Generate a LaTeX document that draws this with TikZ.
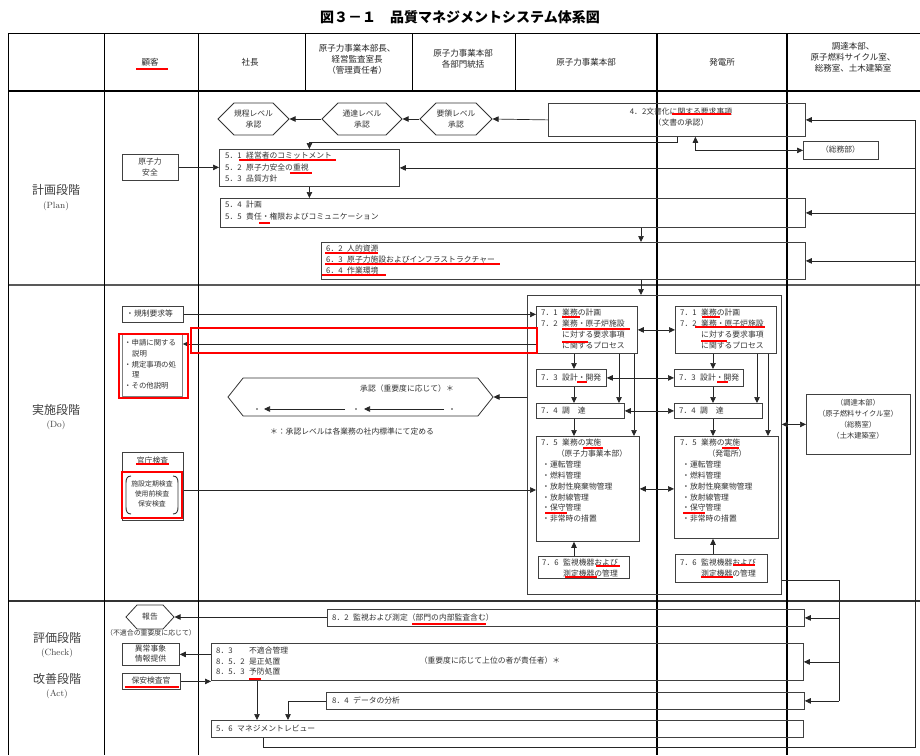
\documentclass[tikz,border=0pt]{standalone}
\usepackage{fontspec}
\newfontfamily\jp{Noto Sans CJK JP}
\usetikzlibrary{arrows.meta,shapes.symbols,calc}
\newcommand{\secn}[2][21pt]{\makebox[#1][l]{#2}}
\newcommand{\drawbox}[6][]{\node[boxst,#1,anchor=north west,minimum width={(#5-#3)*1pt},minimum height={(#6-#4)*1pt}] (#2) at (#3,#4) {};}
\tikzset{
  boxst/.style={draw=black!75, line width=0.8pt, inner sep=0pt, rectangle},
  txt/.style={font=\jp\fontsize{7.8}{#1}\selectfont, inner sep=0pt, align=left, text=black!80},
  txt/.default=11,
  ctxt/.style={txt=#1, align=center},
  ctxt/.default=11,
  hfont/.style={font=\jp\fontsize{8.5}{11}\selectfont, inner sep=0pt, align=center, text=black!85},
  arr/.style={-{Triangle[length=6pt,width=5.5pt]}, line width=0.7pt, draw=black!85},
  dbl/.style={{Triangle[length=6pt,width=5.5pt]}-{Triangle[length=6pt,width=5.5pt]}, line width=0.7pt, draw=black!85},
  plainln/.style={line width=0.7pt, draw=black!85},
  hexst/.style={draw=black!80, line width=0.8pt, signal, signal to=west and east, inner sep=0pt, font=\jp\fontsize{7.8}{11}\selectfont, align=center, text=black!80},
  redul/.style={draw=red, line width=2pt},
  redbox/.style={draw=red, line width=2.4pt},
  gridln/.style={line width=1pt, draw=black},
  lbl/.style={font=\jp\fontsize{12}{14}\selectfont, text=black!75, inner sep=0pt},
  lbls/.style={font=\fontsize{9}{11}\selectfont, text=black!75, inner sep=0pt},
  dotn/.style={circle, fill=black!80, inner sep=0pt, minimum size=1.6pt},
}
\begin{document}
\begin{tikzpicture}[x=1pt,y=-1pt]
\useasboundingbox (0,0) rectangle (920,755);
\fill[white] (0,0) rectangle (920,755);

% title
\node[font=\jp\bfseries\fontsize{14}{16}\selectfont, inner sep=0pt] (title) at (460,17) {図３－１　品質マネジメントシステム体系図};

% table grid
\draw[gridln] (8,33) -- (920,33);
\draw[line width=1.6pt] (8,91) -- (920,91);
\draw[line width=1.2pt, black!65] (8,285) -- (920,285);
\draw[line width=1.2pt, black!80] (8,601) -- (920,601);
\draw[gridln] (8,33) -- (8,755);
\draw[gridln] (104,33) -- (104,755);
\draw[gridln] (198,33) -- (198,755);
\draw[gridln] (305,33) -- (305,91);
\draw[gridln] (412,33) -- (412,91);
\draw[gridln] (515,33) -- (515,91);
\draw[line width=1.3pt] (657,33) -- (657,755);
\draw[line width=1.3pt] (787,33) -- (787,755);

% header
\node[hfont] (hk) at (150,62) {顧客};
\node[hfont] (hs) at (250,62) {社長};
\node[hfont] (hm) at (357,59) {原子力事業本部長、\\経営監査室長\\（管理責任者）};
\node[hfont] (hb) at (463,59) {原子力事業本部\\各部門統括};
\node[hfont] (hg) at (586,62) {原子力事業本部};
\node[hfont] (hp) at (722,62) {発電所};
\node[hfont] (hc) at (853,57) {調達本部、\\原子燃料サイクル室、\\総務室、土木建築室};

% left labels
\node[lbl] (lp1) at (56,190) {計画段階};
\node[lbls] (lp2) at (56,206) {(Plan)};
\node[lbl] (ld1) at (56,410) {実施段階};
\node[lbls] (ld2) at (56,425) {(Do)};
\node[lbl] (lc1) at (57,638) {評価段階};
\node[lbls] (lc2) at (57,653) {(Check)};
\node[lbl] (la1) at (57,679) {改善段階};
\node[lbls] (la2) at (57,694) {(Act)};

% ---------- Plan ----------
\node[hexst, minimum width=67pt, minimum height=32pt] (hex1) at (253.5,119) {規程レベル\\承認};
\node[hexst, minimum width=80pt, minimum height=32pt] (hex2) at (362,119) {通達レベル\\承認};
\node[hexst, minimum width=72pt, minimum height=32pt] (hex3) at (456,119) {要領レベル\\承認};
\drawbox{b42}{548}{103}{805}{136}
\node[ctxt=10.5] (t42) at (681,117) {4．2文書化に関する要求事項\\（文書の承認）};
\drawbox{soumu}{803}{141}{878}{159}
\node[ctxt] (tsoumu) at (840.5,150) {（総務部）};
\drawbox{genshi}{122}{154}{178}{180}
\node[ctxt=11] (tgenshi) at (150,167) {原子力\\安全};
\drawbox{b51}{219}{149}{399}{186}
\node[txt=11.5, anchor=north west] (t51) at (225,152) {\secn{5．1}経営者のコミットメント\\\secn{5．2}原子力安全の重視\\\secn{5．3}品質方針};
\drawbox{b54}{220}{198}{805}{227}
\node[txt=12, anchor=north west] (t54) at (225,201) {\secn{5．4}計画\\\secn{5．5}責任・権限およびコミュニケーション};
\drawbox{b62}{321}{242}{805}{279}
\node[txt=11, anchor=north west] (t62) at (326,245) {\secn{6．2}人的資源\\\secn{6．3}原子力施設およびインフラストラクチャー\\\secn{6．4}作業環境};

% ---------- Do ----------
\drawbox{kisei}{122}{306}{183}{322}
\node[txt, anchor=west] (tkisei) at (126,314) {・規制要求等};
\drawbox[draw=black!50]{shinsei}{122}{333}{182}{396}
\node[txt=10.8, anchor=north west, font=\jp\fontsize{7.4}{10.8}\selectfont] (tshinsei) at (124,339) {・申請に関する\\\hspace*{8pt}説明\\・規定事項の処\\\hspace*{8pt}理\\・その他説明};
\node[hexst, signal pointer angle=103, minimum width=265pt, minimum height=38pt] (bighex) at (360.5,397) {};
\node[txt] (thex) at (407,389) {承認（重要度に応じて）＊};
\node[dotn] (d1) at (257,409) {};
\node[dotn] (d2) at (356,409) {};
\node[dotn] (d3) at (452,409) {};
\node[txt] (note) at (352,432) {＊：承認レベルは各業務の社内標準にて定める};

\drawbox{kancho}{122}{452}{183}{520}
\draw[line width=0.8pt, black!75] (122,471) -- (183,471);
\node[ctxt] (tkancho) at (152.5,461) {官庁検査};
\node[ctxt=10, font=\jp\fontsize{6.9}{10}\selectfont] (tkancho2) at (152,494) {施設定期検査\\使用前検査\\保安検査};
\draw[line width=0.9pt, black!80] (131,476) .. controls (127,476) and (126,479) .. (126,483) -- (126,507) .. controls (126,511) and (127,514) .. (131,514);
\draw[line width=0.9pt, black!80] (173,476) .. controls (177,476) and (178,479) .. (178,483) -- (178,507) .. controls (178,511) and (177,514) .. (173,514);

\drawbox{frame}{527}{295}{781}{594}
\drawbox{b71L}{536}{306}{637}{353}
\drawbox{b71R}{675}{306}{776}{353}
\drawbox{b73L}{536}{369}{606}{386}
\drawbox{b73R}{674}{369}{743}{386}
\drawbox{b74L}{536}{403}{624}{418}
\drawbox{b74R}{674}{403}{762}{418}
\drawbox{b75L}{536}{436}{639}{541}
\drawbox{b75R}{674}{436}{778}{538}
\drawbox{b76L}{538}{556}{629}{578}
\drawbox{b76R}{675}{554}{767}{582}

\node[txt=11, anchor=north west] (t71L) at (541,309) {\secn{7．1}業務の計画\\\secn{7．2}業務・原子炉施設\\\hspace*{21pt}に対する要求事項\\\hspace*{21pt}に関するプロセス};
\node[txt=11, anchor=north west] (t71R) at (680,309) {\secn{7．1}業務の計画\\\secn{7．2}業務・原子炉施設\\\hspace*{21pt}に対する要求事項\\\hspace*{21pt}に関するプロセス};
\node[txt, anchor=west] (t73L) at (541,377.5) {\secn{7．3}設計・開発};
\node[txt, anchor=west] (t73R) at (679,377.5) {\secn{7．3}設計・開発};
\node[txt, anchor=west] (t74L) at (541,410.5) {\secn{7．4}調　達};
\node[txt, anchor=west] (t74R) at (679,410.5) {\secn{7．4}調　達};
\node[txt, anchor=west] (t75L) at (541,443) {\secn{7．5}業務の実施};
\node[txt, anchor=west] (t75R) at (680,443) {\secn{7．5}業務の実施};
\node[txt] (s75L) at (592,454) {（原子力事業本部）};
\node[txt] (s75R) at (727,454) {（発電所）};
\node[txt=10.8, anchor=north west] (i75L) at (542,461) {・運転管理\\・燃料管理\\・放射性廃棄物管理\\・放射線管理\\・保守管理\\・非常時の措置};
\node[txt=10.8, anchor=north west] (i75R) at (682,461) {・運転管理\\・燃料管理\\・放射性廃棄物管理\\・放射線管理\\・保守管理\\・非常時の措置};
\node[txt=10.5, anchor=north west] (t76L) at (542,559) {\secn{7．6}監視機器および\\\hspace*{21pt}測定機器の管理};
\node[txt=10.5, anchor=north west] (t76R) at (680,559) {\secn{7．6}監視機器および\\\hspace*{21pt}測定機器の管理};

\drawbox{chotatsu}{806}{394}{910}{454}
\node[ctxt=11, font=\jp\fontsize{7.3}{11}\selectfont] (tchot) at (858,419) {（調達本部）\\（原子燃料サイクル室）\\（総務室）\\（土木建築室）};

% ---------- Check / Act ----------
\node[hexst, signal pointer angle=95, minimum width=48pt, minimum height=24pt] (hokoku) at (150,617) {報告};
\node[txt, font=\jp\fontsize{6.9}{9}\selectfont] (tfut) at (151,633) {（不適合の重要度に応じて）};
\drawbox{ijou}{122}{643}{179}{665}
\node[ctxt=10] (tijou) at (150.5,654) {異常事象\\情報提供};
\drawbox{hoan}{122}{673}{180}{689}
\node[ctxt] (thoan) at (151,681) {保安検査官};
\drawbox{b82}{327}{609}{804}{626}
\node[txt, anchor=west] (t82) at (332,617.5) {\secn{8．2}監視および測定（部門の内部監査含む）};
\drawbox{b83}{211}{643}{803}{680}
\node[txt=10.5, anchor=north west] (t83) at (216,647) {\secn[33pt]{8．3}不適合管理\\\secn[33pt]{8．5．2}是正処置\\\secn[33pt]{8．5．3}予防処置};
\node[txt] (t83b) at (490,661) {（重要度に応じて上位の者が責任者）＊};
\drawbox{b84}{326}{692}{804}{709}
\node[txt, anchor=west] (t84) at (332,700.5) {\secn{8．4}データの分析};
\drawbox{b56}{211}{720}{803}{737}
\node[txt, anchor=west] (t56) at (216,728.5) {\secn{5．6}マネジメントレビュー};

% ---------- coordinates ----------
\coordinate (rb) at (915,747);
\coordinate (rx) at (839,580);
\coordinate (x641) at (641,0);
\coordinate (xL1) at (574,0);
\coordinate (xL2) at (619,0);
\coordinate (xL3) at (634,0);
\coordinate (xR1) at (713,0);
\coordinate (xR2) at (757,0);
\coordinate (xR3) at (768,0);
\coordinate (y344) at (0,344);
\coordinate (y490) at (0,490);
\coordinate (x257) at (257,0);
\coordinate (x288) at (288,0);

% ---------- connectors ----------
\draw[arr] (b42.west) -- (hex3.east);
\draw[arr] (hex3.west) -- (hex2.east);
\draw[arr] (hex2.west) -- (hex1.east);
\draw[arr] (b42.south) -- ++(0,6) -| (b51.north);
\draw[dbl] ([xshift=18.5pt]b42.south) |- (soumu.west);
\draw[arr] ([xshift=-244pt]b56.south) |- (rb) -- (b42.east -| rb) -- (b42.east);
\draw[arr] (b51.east -| rb) -- (b51.east);
\draw[arr] (b54.east -| rb) -- (b54.east);
\draw[arr] (b62.east -| rb) -- (b62.east);
\draw[arr] (genshi.east) -- (genshi.east -| b51.west);
\draw[arr] (b51.south) -- (b51.south |- b54.north);
\draw[arr] (b54.south -| x641) -- (b62.north -| x641);
\draw[arr] (b62.south -| x641) -- (frame.north -| x641);

\draw[arr] (kisei.east) -- (kisei.east -| b71L.west);
\draw[arr] (b71L.west |- y344) -- (shinsei.east |- y344);
\draw[arr] (frame.west |- bighex.east) -- (bighex.east);
\draw[arr, shorten <=7pt, shorten >=7pt] (d3) -- (d2);
\draw[arr, shorten <=10pt, shorten >=6pt] (d2) -- (d1);
\draw[arr] (kancho.east |- y490) -- (b75L.west |- y490);

\draw[arr] (b71L.south -| xL1) -- (b73L.north -| xL1);
\draw[arr] (b73L.south -| xL1) -- (b74L.north -| xL1);
\draw[arr] (b74L.south -| xL1) -- (b75L.north -| xL1);
\draw[arr] (b71L.south -| xL2) -- (b74L.north -| xL2);
\draw[arr] (b71L.south -| xL3) -- (b75L.north -| xL3);
\draw[arr] (b76L.north -| xL1) -- (b75L.south -| xL1);
\draw[arr] (b71R.south -| xR1) -- (b73R.north -| xR1);
\draw[arr] (b73R.south -| xR1) -- (b74R.north -| xR1);
\draw[arr] (b74R.south -| xR1) -- (b75R.north -| xR1);
\draw[arr] (b71R.south -| xR2) -- (b74R.north -| xR2);
\draw[arr] (b71R.south -| xR3) -- (b75R.north -| xR3);
\draw[arr] (b76R.north -| xR1) -- (b75R.south -| xR1);
\draw[dbl] (b71L.east) -- (b71R.west);
\draw[dbl] (b73L.east) -- (b73R.west);
\draw[dbl] (b74L.east) -- (b74R.west);
\draw[dbl] (b75L.east) -- (b75L.east -| b75R.west);
\draw[dbl] (frame.east |- chotatsu.west) -- (chotatsu.west);
\draw[plainln] (frame.east |- rx) -- (rx) -- (rx |- b84.east);
\draw[arr] (rx |- b82.east) -- (b82.east);
\draw[arr] (rx |- b83.east) -- (b83.east);
\draw[arr] (rx |- b84.east) -- (b84.east);

\draw[arr] (b82.west |- hokoku.east) -- (hokoku.east);
\draw[arr] (b83.west |- ijou.east) -- (ijou.east);
\draw[arr] (hoan.east) -- (hoan.east -| b83.west);
\draw[arr] (b83.south -| x257) -- (b56.north -| x257);
\draw[arr] (b84.west) -| (b56.north -| x288);

% ---------- red marks ----------
\draw[redul] (136,69) -- (168,69);
\draw[redul] (239,160) -- (336,160);
\draw[redul] (290,173) -- (312,173);
\draw[redul] (672,114) -- (731,114);
\draw[redul] (259,223) -- (270,223);
\draw[redul] (325,253) -- (378,253);
\draw[redul] (325,264) -- (500,264);
\draw[redul] (322,275) -- (386,275);
\draw[redul] (562,317) -- (580,317);
\draw[redul] (562,329) -- (630,329);
\draw[redul] (562,342) -- (588,342);
\draw[redul] (702,317) -- (720,317);
\draw[redul] (695,327) -- (765,327);
\draw[redul] (701,341) -- (727,341);
\draw[redul] (577,382) -- (587,382);
\draw[redul] (717,382) -- (728,382);
\draw[redul] (583,448) -- (603,448);
\draw[redul] (545,513) -- (567,513);
\draw[redul] (722,448) -- (739,448);
\draw[redul] (683,513) -- (705,513);
\draw[redul] (596,566) -- (620,566);
\draw[redul] (565,577) -- (597,577);
\draw[redul] (733,565) -- (755,565);
\draw[redul] (701,577) -- (733,577);
\draw[redul] (136,464) -- (169,464);
\draw[redul] (412,624) -- (486,624);
\draw[redul] (249,679) -- (261,679);
\draw[redul] (125,687) -- (179,687);
\draw[redbox] (191,328) rectangle (537,353);
\draw[redbox] (119,334) rectangle (188,398);
\draw[redbox] (122,472) rectangle (182,518);
\end{tikzpicture}
\end{document}
